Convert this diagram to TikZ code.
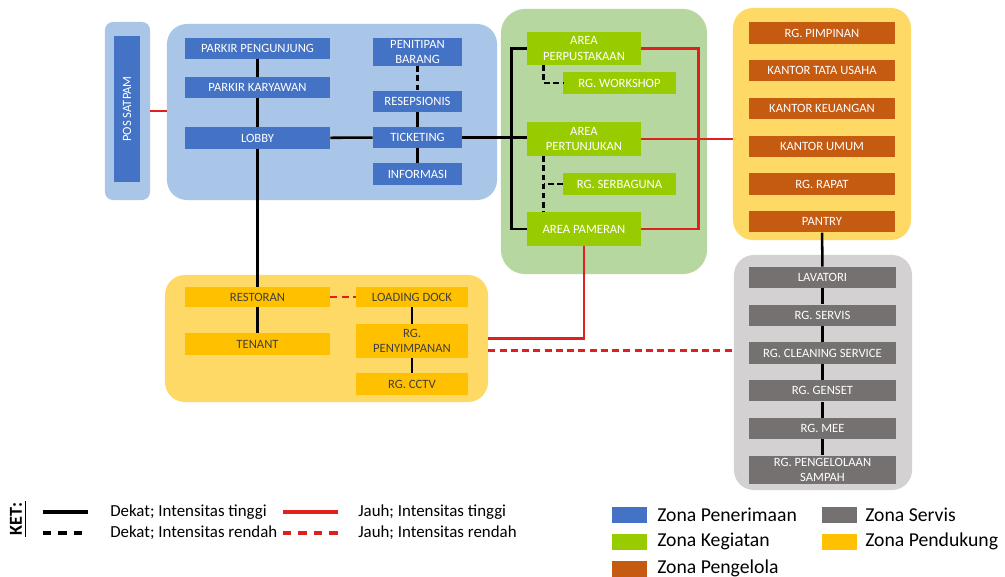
\documentclass[tikz,border=0pt]{standalone}
\usepackage{fontspec}
\setmainfont{Carlito}
\usepackage{xcolor}
\usetikzlibrary{positioning,calc}

\definecolor{zbiru}{HTML}{A9C6E8}
\definecolor{zhijau}{HTML}{B6D7A0}
\definecolor{zkuning}{HTML}{FFD966}
\definecolor{zabu}{HTML}{D3D1D1}
\definecolor{kbiru}{HTML}{4472C4}
\definecolor{khijau}{HTML}{99CC00}
\definecolor{koranye}{HTML}{C55A11}
\definecolor{kkuning}{HTML}{FFC000}
\definecolor{kabu}{HTML}{767171}
\definecolor{merah}{HTML}{E0201E}

\begin{document}
\begin{tikzpicture}[x=0.025cm, y=-0.025cm,
    zona/.style={rounded corners=0.5cm, inner sep=0pt},
    ruang/.style={inner sep=1pt, font=\fontsize{9}{11}\selectfont, text=white, align=center, minimum height=0.53cm},
    biru/.style={ruang, fill=kbiru},
    hijau/.style={ruang, fill=khijau},
    oranye/.style={ruang, fill=koranye, minimum width=3.65cm},
    abu/.style={ruang, fill=kabu, minimum width=3.65cm},
    kuning/.style={ruang, fill=kkuning, text=black!75},
    dekat/.style={line width=1.8pt, black},
    dekatr/.style={dekat, dash pattern=on 4pt off 2.5pt},
    jauh/.style={line width=1.8pt, merah},
    jauhr/.style={jauh, dash pattern=on 5pt off 3pt},
    ket/.style={font=\fontsize{12}{14}\selectfont, anchor=west, inner sep=0pt},
    zonaket/.style={font=\fontsize{14}{16}\selectfont, anchor=west, inner sep=0pt}]
    \useasboundingbox (0,0) rectangle (1005,577);

    % Zona (latar)
    \node[zona, rounded corners=0.2cm, fill=zbiru, minimum width=1.125cm, minimum height=4.45cm] (satpamzona) at (127.5,111) {};
    \node[zona, fill=zbiru, minimum width=8.25cm, minimum height=4.4cm] (penerimaan) at (332,112) {};
    \node[zona, rounded corners=0.6cm, fill=zhijau, minimum width=5.15cm, minimum height=6.625cm] (kegiatan) at (604,141.5) {};
    \node[zona, fill=zkuning, minimum width=4.45cm, minimum height=5.8cm] (pengelola) at (822,124) {};
    \node[zona, fill=zabu, minimum width=4.45cm, minimum height=5.875cm] (servis) at (823,372.5) {};
    \node[zona, fill=zkuning, minimum width=8.075cm, minimum height=3.175cm] (pendukung) at (326.5,338.5) {};

    % Zona penerimaan
    \node[biru, rotate=90, minimum width=3.65cm, minimum height=0.65cm] (satpam) at (127,109) {POS SATPAM};
    \node[biru, minimum width=3.625cm] (pengunjung) at (257.5,48.5) {PARKIR PENGUNJUNG};
    \node[biru, minimum width=3.625cm] (karyawan) at (257.5,87.5) {PARKIR KARYAWAN};
    \node[biru, minimum width=3.625cm] (lobby) at (257.5,138) {LOBBY};
    \node[biru, minimum width=2.225cm, minimum height=0.7cm] (penitipan) at (417.5,52) {PENITIPAN\\BARANG};
    \node[biru, minimum width=2.225cm] (resepsionis) at (417.5,101.5) {RESEPSIONIS};
    \node[biru, minimum width=2.225cm] (ticketing) at (417.5,137.5) {TICKETING};
    \node[biru, minimum width=2.225cm] (informasi) at (417.5,174) {INFORMASI};

    % Zona kegiatan
    \node[hijau, minimum width=2.85cm, minimum height=0.825cm] (perpus) at (584,48.5) {AREA\\PERPUSTAKAAN};
    \node[hijau, minimum width=2.825cm, minimum height=0.55cm] (workshop) at (619.5,83) {RG. WORKSHOP};
    \node[hijau, minimum width=2.85cm, minimum height=0.85cm] (pertunjukan) at (584,139) {AREA\\PERTUNJUKAN};
    \node[hijau, minimum width=2.825cm, minimum height=0.55cm] (serbaguna) at (619.5,184) {RG. SERBAGUNA};
    \node[hijau, minimum width=2.85cm, minimum height=0.85cm] (pameran) at (584,229) {AREA PAMERAN};

    % Zona pengelola
    \node[oranye] (pimpinan) at (822,33) {RG. PIMPINAN};
    \node[oranye, below=0.4cm of pimpinan] (tatausaha) {KANTOR TATA USAHA};
    \node[oranye, below=0.4cm of tatausaha] (keuangan) {KANTOR KEUANGAN};
    \node[oranye, below=0.4cm of keuangan] (umum) {KANTOR UMUM};
    \node[oranye, below=0.4cm of umum] (rapat) {RG. RAPAT};
    \node[oranye, below=0.4cm of rapat] (pantry) {PANTRY};

    % Zona servis
    \node[abu] (lavatori) at (822.5,277.5) {LAVATORI};
    \node[abu, below=0.4cm of lavatori] (rgservis) {RG. SERVIS};
    \node[abu, below=0.4cm of rgservis] (cleaning) {RG. CLEANING SERVICE};
    \node[abu, below=0.4cm of cleaning] (genset) {RG. GENSET};
    \node[abu, below=0.4cm of genset] (mee) {RG. MEE};
    \node[abu, below=0.4cm of mee, minimum height=0.7cm] (sampah) {RG. PENGELOLAAN\\SAMPAH};

    % Zona pendukung
    \node[kuning, minimum width=3.625cm, minimum height=0.5cm] (restoran) at (257.5,297) {RESTORAN};
    \node[kuning, minimum width=3.625cm, minimum height=0.55cm] (tenant) at (257.5,344) {TENANT};
    \node[kuning, minimum width=2.8cm, minimum height=0.5cm] (loading) at (412,297) {LOADING DOCK};
    \node[kuning, minimum width=2.8cm, minimum height=0.85cm] (penyimpanan) at (412,341) {RG.\\PENYIMPANAN};
    \node[kuning, minimum width=2.8cm, minimum height=0.55cm] (cctv) at (412,384) {RG. CCTV};

    % Hubungan dekat
    \draw[dekat] (pengunjung) -- (karyawan);
    \draw[dekat] (karyawan) -- (lobby);
    \draw[dekat] (lobby) -- (ticketing);
    \draw[dekat] (lobby) -- (restoran);
    \draw[dekat] (resepsionis) -- (ticketing);
    \draw[dekat] (ticketing) -- (informasi);
    \draw[dekatr] (penitipan) -- (resepsionis);
    \draw[dekat] (ticketing.east) -- (ticketing.east -| pertunjukan.west);
    \draw[dekat] (perpus.west) -| ($(pameran.west)+(-15,0)$) |- (pameran.west);
    \draw[dekatr] ($(perpus.south west)+(17,0)$) |- (workshop.west);
    \coordinate (sb) at ($(pertunjukan.south west)+(17,0)$);
    \draw[dekatr] (sb) -- (sb |- pameran.north);
    \draw[dekatr] (serbaguna.west) -- (serbaguna.west -| sb);
    \draw[dekat] (restoran) -- (tenant);
    \draw[dekat] (loading) -- (penyimpanan);
    \draw[dekat] (penyimpanan) -- (cctv);
    \draw[dekat] (pantry) -- (lavatori);
    \draw[dekat] (lavatori) -- (rgservis);
    \draw[dekat] (rgservis) -- (cleaning);
    \draw[dekat] (cleaning) -- (genset);
    \draw[dekat] (genset) -- (mee);
    \draw[dekat] (mee) -- (sampah);

    % Hubungan jauh
    \draw[jauh] (satpamzona.east) -- (satpamzona.east -| penerimaan.west);
    \draw[jauh] (perpus.east) -| ($(pameran.east)+(57,0)$) |- (pameran.east);
    \draw[jauh] (pertunjukan.east) -- (pertunjukan.east -| pengelola.west);
    \draw[jauh] (pameran.south) |- (pendukung.east);
    \draw[jauhr] ($(pendukung.east)+(0,12)$) coordinate (jr) -- (jr -| servis.west);
    \draw[jauhr] (restoran) -- (loading);

    % Keterangan
    \node[rotate=90, inner sep=1pt, font=\bfseries\fontsize{13}{15}\selectfont] (ket) at (16,519) {KET:};
    \draw[line width=0.8pt] ([xshift=1pt]ket.south west) -- ([xshift=1pt]ket.south east);
    \coordinate (k1a) at (43,512); \coordinate (k1b) at (88,512);
    \coordinate (k2a) at (43,533); \coordinate (k2b) at (88,533);
    \coordinate (k3a) at (283,512); \coordinate (k3b) at (338,512);
    \coordinate (k4a) at (283,533); \coordinate (k4b) at (338,533);
    \draw[dekat, line width=2.2pt] (k1a) -- (k1b);
    \draw[dekat, line width=2.2pt, dash pattern=on 6pt off 5pt] (k2a) -- (k2b);
    \draw[jauh, line width=2.2pt] (k3a) -- (k3b);
    \draw[jauh, line width=2.2pt, dash pattern=on 6pt off 5pt] (k4a) -- (k4b);
    \node[ket] (t1) at (110,512) {Dekat; Intensitas tinggi};
    \node[ket] (t2) at (110,533) {Dekat; Intensitas rendah};
    \node[ket] (t3) at (358,512) {Jauh; Intensitas tinggi};
    \node[ket] (t4) at (358,533) {Jauh; Intensitas rendah};

    \node[fill=kbiru, minimum width=0.875cm, minimum height=0.4cm, inner sep=0pt] (c1) at (629.5,515) {};
    \node[fill=khijau, minimum width=0.875cm, minimum height=0.4cm, inner sep=0pt] (c2) at (629.5,541.5) {};
    \node[fill=koranye, minimum width=0.875cm, minimum height=0.4cm, inner sep=0pt] (c3) at (629.5,568.5) {};
    \node[fill=kabu, minimum width=0.875cm, minimum height=0.4cm, inner sep=0pt] (c4) at (839.5,515) {};
    \node[fill=kkuning, minimum width=0.875cm, minimum height=0.4cm, inner sep=0pt] (c5) at (839.5,541.5) {};
    \node[zonaket] at (657,515) {Zona Penerimaan};
    \node[zonaket] at (657,541.5) {Zona Kegiatan};
    \node[zonaket] at (657,568.5) {Zona Pengelola};
    \node[zonaket] at (865,515) {Zona Servis};
    \node[zonaket] at (865,541.5) {Zona Pendukung};
\end{tikzpicture}
\end{document}
